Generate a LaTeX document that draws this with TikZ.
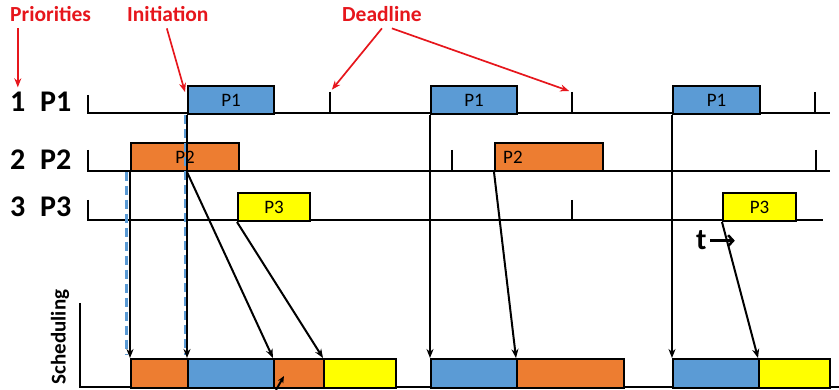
\documentclass[tikz,border=0pt]{standalone}
\usepackage{fontspec}
\setmainfont{Carlito}
\usetikzlibrary{arrows.meta,calc}

\definecolor{taskblue}{RGB}{91,155,213}
\definecolor{taskorange}{RGB}{237,125,49}
\definecolor{taskyellow}{RGB}{255,255,0}
\definecolor{notered}{RGB}{230,22,28}

\begin{document}
\begin{tikzpicture}[x=1pt, y=-1pt,
  task/.style={draw, line width=2pt, minimum height=28pt, inner sep=0pt,
    anchor=north west, font=\fontsize{19}{21}\selectfont},
  slot/.style={task, minimum height=29pt},
  axis/.style={line width=2pt},
  flow/.style={line width=2pt, -{Stealth[length=9pt,width=7pt]}},
  note/.style={notered, line width=1.7pt, -{Stealth[length=9pt,width=7pt]}},
  guide/.style={taskblue, line width=3pt, dash pattern=on 9pt off 5pt},
  title/.style={text=notered, font=\bfseries\fontsize{21.5}{25}\selectfont,
    inner sep=0pt, anchor=base west},
  prio/.style={font=\bfseries\fontsize{30}{34}\selectfont, inner sep=0pt,
    anchor=base west}]

  \useasboundingbox (0,0) rectangle (839,390);

  % task rows
  \draw[axis] (88,95) -- (88,113) -- (830,113);
  \draw[axis] (88,150) -- (88,171) -- (830,171);
  \draw[axis] (88,200) -- (88,220) -- (823,220);
  % deadlines
  \foreach \x in {330,572,815} \draw[axis] (\x,92) -- (\x,113);
  \foreach \x in {452,816} \draw[axis] (\x,150) -- (\x,171);
  \draw[axis] (572,200) -- (572,220);
  \coordinate (dl1) at (330,92);
  \coordinate (dl2) at (572,92);

  % scheduling axis
  \draw[axis] (80,303) -- (80,387) -- (839,387);

  % labels
  \node[title] (pri) at (10,22) {Priorities};
  \node[title] (ini) at (127,22) {Initiation};
  \node[title] (ddl) at (342,22) {Deadline};

  \node[prio] (n1) at (10,112) {1};
  \node[prio] (r1) at (40,112) {P1};
  \node[prio] (n2) at (10,170) {2};
  \node[prio] (r2) at (40,170) {P2};
  \node[prio] (n3) at (10,217) {3};
  \node[prio] (r3) at (40,217) {P3};

  \node[font=\bfseries\fontsize{21}{24}\selectfont, rotate=90, inner sep=0pt]
    (sched) at (60,337) {Scheduling};

  % released jobs
  \node[task, fill=taskblue, minimum width=86pt] (p1a) at (187,85) {P1};
  \node[task, fill=taskblue, minimum width=86pt] (p1b) at (430,85) {P1};
  \node[task, fill=taskblue, minimum width=87pt] (p1c) at (672,85) {P1};
  \node[task, fill=taskorange, minimum width=108pt] (p2a) at (130,142) {P2};
  \node[task, fill=taskorange, minimum width=108pt] (p2b) at (494,142) {};
  \node[anchor=west, inner sep=0pt, font=\fontsize{19}{21}\selectfont]
    at ([xshift=9pt]p2b.west) {P2};
  \node[task, fill=taskyellow, minimum width=72pt] (p3a) at (237,192) {P3};
  \node[task, fill=taskyellow, minimum width=73pt] (p3b) at (722,192) {P3};

  % schedule
  \node[slot, fill=taskorange, minimum width=57pt] (s1) at (130,358) {};
  \node[slot, fill=taskblue, minimum width=86pt] (s2) at (187,358) {};
  \node[slot, fill=taskorange, minimum width=50pt] (s3) at (273,358) {};
  \node[slot, fill=taskyellow, minimum width=72pt] (s4) at (323,358) {};
  \node[slot, fill=taskblue, minimum width=86pt] (s5) at (430,358) {};
  \node[slot, fill=taskorange, minimum width=107pt] (s6) at (516,358) {};
  \node[slot, fill=taskblue, minimum width=86pt] (s7) at (672,358) {};
  \node[slot, fill=taskyellow, minimum width=71pt] (s8) at (758,358) {};

  % preemption guides
  \draw[guide] ([xshift=-4pt]p2a.south west) -- ([xshift=-4pt,yshift=3pt]s1.north west);
  \draw[guide] ([xshift=-2pt]p1a.south west) -- ([xshift=-2pt,yshift=3pt]s2.north west);

  % mapping to the schedule
  \draw[flow] (p2a.south west) -- (s1.north west);
  \draw[flow] (p1a.south west) -- (s2.north west);
  \draw[flow] (p1a.south west |- p2a.south) -- (s3.north west);
  \draw[flow] (p3a.south west) -- (s4.north west);
  \draw[flow] (p1b.south west) -- (s5.north west);
  \draw[flow] (p2b.south west) -- (s6.north west);
  \draw[flow] (p1c.south west) -- (s7.north west);
  \draw[flow] (p3b.south west) -- (s8.north west);

  \coordinate (kick) at (276,390);
  \draw[line width=2pt, -{Stealth[length=7pt,width=6pt]}] (kick) -- (284,376);

  % time marker
  \node[prio] (tnow) at (696,250) {t};
  \draw[line width=2.5pt, -{Straight Barb[length=5pt,width=11pt]}]
    ([xshift=3pt]tnow.east) -- ++(25,0);

  % annotations
  \draw[note] ($(pri.south -| n1.north)+(0,6)$) -- ([yshift=5pt]n1.north);
  \draw[note] ($(ini.south)+(-1,6)$) -- ([shift={(-2pt,-7pt)}]p1a.north west);
  \draw[note, shorten >=3pt] ($(ddl.south)+(0,6)$) -- (dl1);
  \draw[note, shorten >=3pt] ($(ddl.south)+(10,6)$) -- (dl2);
\end{tikzpicture}
\end{document}
